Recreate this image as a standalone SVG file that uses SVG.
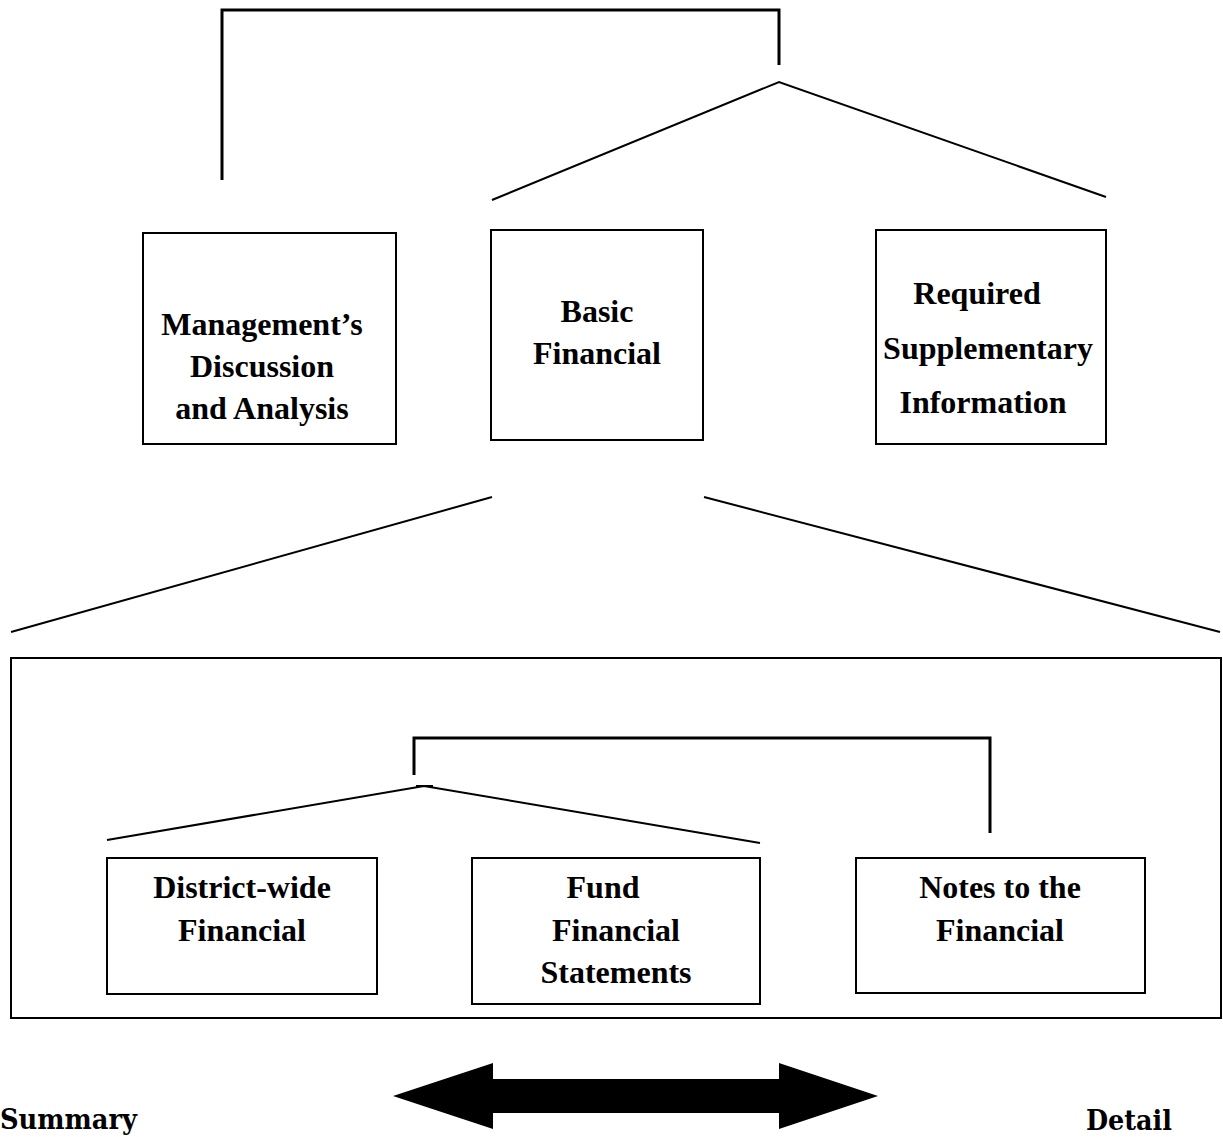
<svg xmlns="http://www.w3.org/2000/svg" width="1223" height="1137" viewBox="0 0 1223 1137">
<style>
.box{fill:#fff;stroke:#000;stroke-width:2}
.frame{fill:none;stroke:#000;stroke-width:2}
.ln{fill:none;stroke:#000;stroke-width:2}
.br{fill:none;stroke:#000;stroke-width:3}
.t{font-family:"Liberation Serif","Times New Roman",serif;font-weight:bold;font-size:32px;text-anchor:middle;fill:#000}
.s{font-family:"DejaVu Serif",serif;font-weight:bold;font-size:28px;fill:#000}
</style>
<rect width="1223" height="1137" fill="#fff"/>
<g id="container">
<rect class="frame" x="11" y="658" width="1210" height="360"/>
</g>
<g id="connectors">
<polyline class="br" points="222,180 222,10 779,10 779,65"/>
<polyline class="ln" points="492,200 779,82 1106,197"/>
<line class="ln" x1="492" y1="497" x2="11" y2="632"/>
<line class="ln" x1="704" y1="497" x2="1220" y2="632"/>
<polyline class="br" points="414,775 414,738 990,738 990,833"/>
<polyline class="ln" points="107,840 424,786 760,843"/>
<line class="ln" x1="416" y1="786" x2="433" y2="786"/>
</g>
<g id="mdna">
<rect class="box" x="143" y="233" width="253" height="211"/>
<text class="t" x="262" y="335">Management’s</text>
<text class="t" x="262" y="377">Discussion</text>
<text class="t" x="262" y="419">and Analysis</text>
</g>
<g id="basic">
<rect class="box" x="491" y="230" width="212" height="210"/>
<text class="t" x="597" y="322">Basic</text>
<text class="t" x="597" y="364">Financial</text>
</g>
<g id="rsi">
<rect class="box" x="876" y="230" width="230" height="214"/>
<text class="t" x="977" y="304">Required</text>
<text class="t" x="988" y="359">Supplementary</text>
<text class="t" x="983" y="413">Information</text>
</g>
<g id="districtwide">
<rect class="box" x="107" y="858" width="270" height="136"/>
<text class="t" x="242" y="898">District-wide</text>
<text class="t" x="242" y="941">Financial</text>
</g>
<g id="fund">
<rect class="box" x="472" y="858" width="288" height="146"/>
<text class="t" x="603" y="898">Fund</text>
<text class="t" x="616" y="941">Financial</text>
<text class="t" x="616" y="983">Statements</text>
</g>
<g id="notes">
<rect class="box" x="856" y="858" width="289" height="135"/>
<text class="t" x="1000" y="898">Notes to the</text>
<text class="t" x="1000" y="941">Financial</text>
</g>
<g id="arrow">
<polygon points="393,1096 493,1063 493,1079 779,1079 779,1063 878,1096 779,1129 779,1113 493,1113 493,1129" fill="#000"/>
</g>
<text class="s" x="0" y="1129" textLength="137" lengthAdjust="spacingAndGlyphs">Summary</text>
<text class="s" x="1086" y="1130" textLength="86" lengthAdjust="spacingAndGlyphs">Detail</text>
</svg>
